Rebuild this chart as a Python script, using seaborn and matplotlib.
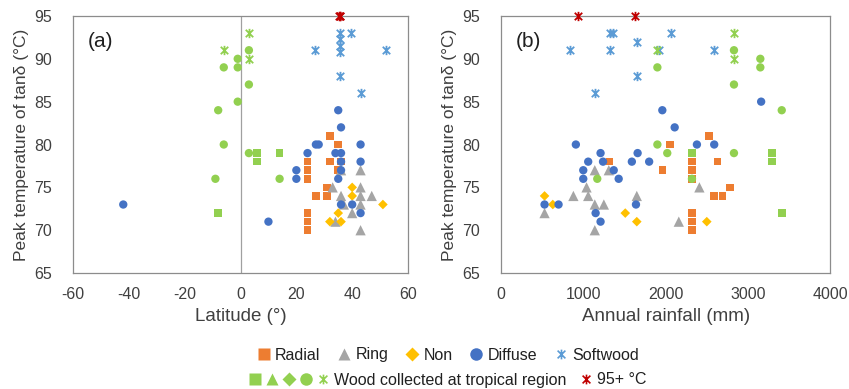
import numpy as np
import seaborn as sns
import matplotlib.pyplot as plt
from matplotlib.path import Path
from matplotlib.lines import Line2D
from matplotlib.legend_handler import HandlerTuple

# ---- data ----
# panel (a): latitude vs peak temperature
lat_radial = [32, 35, 32, 36, 24, 24, 24, 35, 31, 27, 31, 24, 24, 24]
lat_radial_t = [81, 80, 78, 78, 78, 77, 76, 77, 75, 74, 74, 72, 71, 70]
lat_ring = [36, 43, 33, 36, 43, 43, 47, 37, 43, 40, 34, 43]
lat_ring_t = [77, 77, 75, 74, 75, 74, 74, 73, 73, 72, 71, 70]
lat_non = [40, 40, 35, 32, 36, 51]
lat_non_t = [75, 74, 72, 71, 71, 73]
lat_diffuse = [-42, 10, 20, 20, 24, 27, 28, 35, 36, 34, 36, 36, 36, 35, 43, 43, 36, 40, 43]
lat_diffuse_t = [73, 71, 77, 76, 79, 80, 80, 84, 82, 79, 79, 78, 77, 76, 80, 78, 73, 73, 72]
lat_soft = [26.5, 35.5, 39.5, 35.5, 35.5, 35.5, 52, 35.5, 43]
lat_soft_t = [91, 93, 93, 92.3, 91.5, 90.8, 91, 88, 86]
lat_trop_radial = [6, 6, 14, -8]
lat_trop_radial_t = [79, 78, 79, 72]
lat_trop_diffuse = [3, -1, -6, -1, 3, -1, -8, -6, 3, -9, 14]
lat_trop_diffuse_t = [91, 90, 89, 89, 87, 85, 84, 80, 79, 76, 76]
lat_trop_soft = [-6, 3, 3]
lat_trop_soft_t = [91, 93, 90]
lat_hot = [35.2, 35.5, 35.8]
lat_hot_t = [95, 95, 95]

# panel (b): annual rainfall vs peak temperature
rain_radial = [1320, 2050, 1960, 2320, 2320, 2320, 2530, 2630, 2590, 2690, 2780, 2320, 2320, 2320]
rain_radial_t = [78, 80, 77, 78, 77, 76, 81, 78, 74, 74, 75, 72, 71, 70]
rain_ring = [530, 880, 1040, 1060, 1140, 1140, 1250, 1310, 1140, 1650, 2160, 2410]
rain_ring_t = [72, 74, 75, 74, 77, 73, 73, 77, 70, 74, 71, 75]
rain_non = [530, 630, 1510, 1650, 2500]
rain_non_t = [74, 73, 72, 71, 71]
rain_diffuse = [530, 700, 910, 1000, 1000, 1060, 1210, 1240, 1370, 1430, 1150,
                1210, 1590, 1660, 1800, 1640, 1960, 2110, 2380, 2590, 3160]
rain_diffuse_t = [73, 73, 80, 77, 76, 78, 79, 78, 77, 76, 72,
                  71, 78, 79, 78, 73, 84, 82, 80, 80, 85]
rain_soft = [840, 1140, 1330, 1365, 1330, 1650, 1650, 1920, 2060, 2590]
rain_soft_t = [91, 86, 93, 93, 91, 92, 88, 91, 93, 91]
rain_trop_radial = [2320, 3290, 3290, 3410]
rain_trop_radial_t = [79, 79, 78, 72]
rain_trop_diffuse = [1900, 1900, 2020, 1170, 2320, 2830, 2830, 2830, 3150, 3150, 3410]
rain_trop_diffuse_t = [89, 80, 79, 76, 76, 91, 87, 79, 90, 89, 84]
rain_trop_soft = [1900, 2830, 2830]
rain_trop_soft_t = [91, 93, 90]
rain_hot = [940, 1630]
rain_hot_t = [95, 95]

ORANGE = '#ED7D31'
GRAY = '#A5A5A5'
YELLOW = '#FFC000'
BLUE = '#4472C4'
LBLUE = '#5B9BD5'
GREEN = '#92D050'
RED = '#C00000'

# excel-like star marker: X plus a vertical bar
STAR = Path([(0, -1), (0, 1), (-0.8, -0.8), (0.8, 0.8), (-0.8, 0.8), (0.8, -0.8)],
            [Path.MOVETO, Path.LINETO] * 3)

sns.set_style('white')
plt.rcParams['font.family'] = ['Liberation Sans', 'DejaVu Sans']
plt.rcParams['axes.unicode_minus'] = False
TXT = '#404040'

fig = plt.figure(figsize=(8.49, 3.89), dpi=100)
ax1 = fig.add_axes([0.086, 0.298, 0.3946, 0.661])
ax2 = fig.add_axes([0.590, 0.298, 0.388, 0.661])


def draw(ax, x, y, color, marker, s):
    if marker is STAR:
        sns.scatterplot(x=x, y=y, ax=ax, marker=marker, s=s, color=color,
                        edgecolor=color, linewidth=1.3, clip_on=False, zorder=3)
    else:
        sns.scatterplot(x=x, y=y, ax=ax, marker=marker, s=s, color=color,
                        edgecolor='none', linewidth=0, clip_on=False, zorder=3)


def panel(ax, groups):
    for x, y, c, m, s in groups:
        draw(ax, x, y, c, m, s)
    ax.set_ylim(65, 95)
    ax.set_yticks(range(65, 96, 5))
    for sp in ax.spines.values():
        sp.set_color('#8c8c8c')
        sp.set_linewidth(0.9)
    ax.tick_params(direction='in', length=4, width=0.8, color='#8c8c8c',
                   labelsize=11.5, labelcolor=TXT)
    ax.tick_params(axis='x', pad=10)
    ax.tick_params(axis='y', pad=15)
    ax.set_ylabel('Peak temperature of tanδ (°C)', fontsize=12.5, color=TXT, labelpad=4)


panel(ax1, [
    (lat_radial, lat_radial_t, ORANGE, 's', 30),
    (lat_ring, lat_ring_t, GRAY, '^', 55),
    (lat_non, lat_non_t, YELLOW, 'D', 24),
    (lat_diffuse, lat_diffuse_t, BLUE, 'o', 36),
    (lat_trop_radial, lat_trop_radial_t, GREEN, 's', 30),
    (lat_trop_diffuse, lat_trop_diffuse_t, GREEN, 'o', 36),
    (lat_soft, lat_soft_t, LBLUE, STAR, 45),
    (lat_trop_soft, lat_trop_soft_t, GREEN, STAR, 45),
    (lat_hot, lat_hot_t, RED, STAR, 45),
])
ax1.axvline(0, color='#a0a0a0', lw=0.9, zorder=1)
ax1.set_xlim(-60, 60)
ax1.set_xticks(range(-60, 61, 20))
ax1.set_xlabel('Latitude (°)', fontsize=13.5, color=TXT, labelpad=4)
ax1.text(0.045, 0.90, '(a)', transform=ax1.transAxes, fontsize=15, color='#202020', va='center')

panel(ax2, [
    (rain_radial, rain_radial_t, ORANGE, 's', 30),
    (rain_ring, rain_ring_t, GRAY, '^', 55),
    (rain_non, rain_non_t, YELLOW, 'D', 24),
    (rain_diffuse, rain_diffuse_t, BLUE, 'o', 36),
    (rain_trop_radial, rain_trop_radial_t, GREEN, 's', 30),
    (rain_trop_diffuse, rain_trop_diffuse_t, GREEN, 'o', 36),
    (rain_soft, rain_soft_t, LBLUE, STAR, 45),
    (rain_trop_soft, rain_trop_soft_t, GREEN, STAR, 45),
    (rain_hot, rain_hot_t, RED, STAR, 45),
])
ax2.set_xlim(0, 4000)
ax2.set_xticks(range(0, 4001, 1000))
ax2.set_xlabel('Annual rainfall (mm)', fontsize=13.5, color=TXT, labelpad=4)
ax2.text(0.045, 0.90, '(b)', transform=ax2.transAxes, fontsize=15, color='#202020', va='center')


def mk(marker, color, ms=8):
    if marker is STAR:
        return Line2D([], [], ls='none', marker=marker, markersize=ms, color=color,
                      markeredgecolor=color, markeredgewidth=1.2)
    return Line2D([], [], ls='none', marker=marker, markersize=ms, markerfacecolor=color,
                  markeredgecolor='none')


leg_kw = dict(frameon=False, fontsize=11.5, handletextpad=0.2, borderpad=0,
              labelcolor='#202020')
fig.legend([mk('s', ORANGE), mk('^', GRAY, 9), mk('D', YELLOW, 7), mk('o', BLUE, 9),
            mk(STAR, LBLUE, 7)],
           ['Radial', 'Ring', 'Non', 'Diffuse', 'Softwood'],
           loc='center', bbox_to_anchor=(0.527, 1 - 355 / 389), ncol=5,
           handlelength=1.0, columnspacing=1.0, **leg_kw)
fig.legend([(mk('s', GREEN), mk('^', GREEN, 9), mk('D', GREEN, 7), mk('o', GREEN, 9),
             mk(STAR, GREEN, 7))],
           ['Wood collected at tropical region'],
           loc='center', bbox_to_anchor=(0.479, 1 - 380 / 389),
           handlelength=5.2, handler_map={tuple: HandlerTuple(ndivide=None, pad=0.1)},
           **leg_kw)
fig.legend([mk(STAR, RED, 7)], ['95+ °C'],
           loc='center', bbox_to_anchor=(0.721, 1 - 380 / 389),
           handlelength=1.0, **leg_kw)

fig.savefig('out.png', dpi=100)
